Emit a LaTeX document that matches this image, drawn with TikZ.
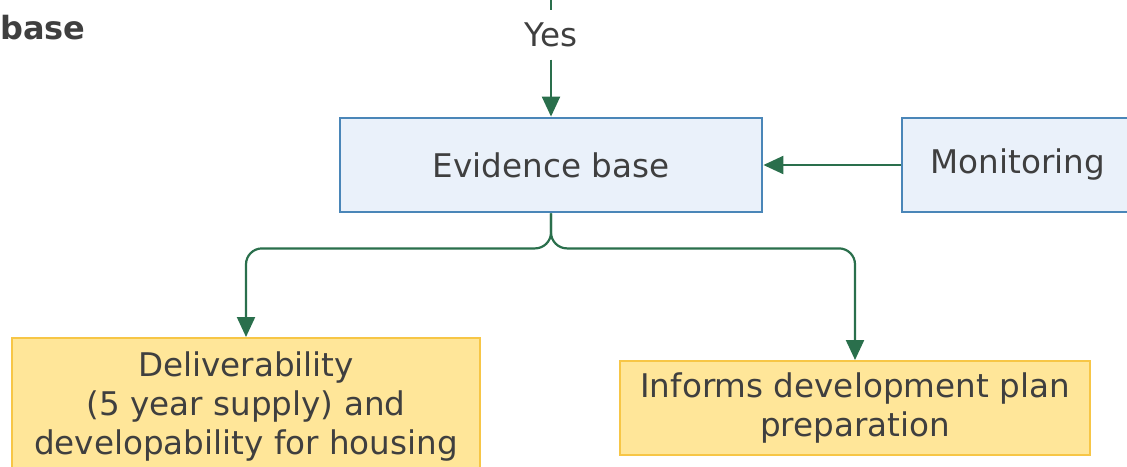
\documentclass[tikz,border=0pt]{standalone}
\usepackage{fontspec}
\setmainfont{DejaVu Sans}
\usetikzlibrary{positioning}
\usetikzlibrary{calc}
\usetikzlibrary{arrows.meta}

\definecolor{evfill}{HTML}{EAF1FA}
\definecolor{evdraw}{HTML}{4A86B8}
\definecolor{outfill}{HTML}{FFE699}
\definecolor{outdraw}{HTML}{F7C646}
\definecolor{flow}{HTML}{2A6F4C}
\definecolor{txt}{HTML}{3F3F3F}

\begin{document}
\begin{tikzpicture}[
    x=0.5pt, y=-0.5pt,
    >={Triangle[length=10pt,width=9pt]},
    every node/.style={font=\fontsize{16.3}{19.7}\selectfont, text=txt},
    stage/.style={draw=evdraw, line width=1.4pt, fill=evfill, minimum width=211pt, minimum height=47pt, inner sep=0pt, align=center},
    outcome/.style={draw=outdraw, line width=1pt, fill=outfill, minimum width=235pt, minimum height=47pt, inner sep=0pt, align=center},
    link/.style={draw=flow, line width=1.1pt, rounded corners=8pt}
]
\useasboundingbox (0,0) rectangle (1127,466);
\clip (0,0) rectangle (1127,466);
\node[anchor=west, inner sep=0pt, font=\fontsize{16}{19.5}\selectfont\bfseries] (heading) at (0,28) {base};
\coordinate (top) at (551,0);
\node[inner sep=6pt] (yes) at (551,35) {Yes};
\node[stage] (evidence) at (551,165) {Evidence base};
\node[stage, minimum width=116pt] (monitoring) at (1018,165) {Monitoring};
\node[outcome, minimum width=234pt, minimum height=68.5pt] (deliver) at (246,406.5) {Deliverability\\(5 year supply) and\\developability for housing};
\node[outcome] (informs) at (855,408) {Informs development plan\\preparation};
\draw[link] (top) -- (yes);
\draw[link, ->] (yes) -- (evidence);
\draw[link, ->] (monitoring) -- (evidence);
\draw[link, ->] (evidence.south) -- ++(0,35) -| (deliver.north -| 246,0);
\draw[link, ->] (evidence.south) -- ++(0,35) -| (informs.north);
\end{tikzpicture}
\end{document}
